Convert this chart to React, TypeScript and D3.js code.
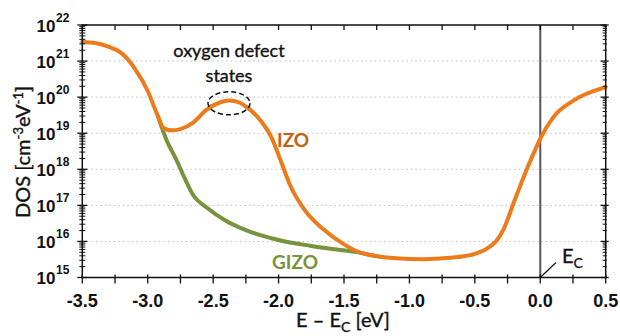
import React from "react";
import * as d3 from "d3";

const izoEnergy = [-3.5, -3.4, -3.3, -3.2, -3.1, -3.0, -2.93, -2.88, -2.82, -2.75, -2.65, -2.55, -2.45, -2.38, -2.3, -2.24, -2.14, -2.05, -1.99, -1.91, -1.81, -1.66, -1.5, -1.38, -1.27, -1.1, -0.9, -0.75, -0.6, -0.5, -0.4, -0.33, -0.28, -0.2, -0.12, -0.05, 0, 0.1, 0.25, 0.5];
const izoDos = [3.39e21, 3.16e21, 2.5e21, 1.66e21, 6.3e20, 1.48e20, 3.5e19, 1.4e19, 1.2e19, 1.3e19, 2.0e19, 4.5e19, 7.1e19, 8.1e19, 7.1e19, 5.2e19, 2.3e19, 7.1e18, 2.0e18, 3.5e17, 8.3e16, 2.2e16, 8.3e15, 5.0e15, 4.0e15, 3.4e15, 3.2e15, 3.4e15, 3.8e15, 4.5e15, 6.6e15, 1.1e16, 2.2e16, 1.26e17, 7.1e17, 2.8e18, 7.1e18, 2.8e19, 7.9e19, 1.9e20];

const gizoEnergy = [-2.92, -2.855, -2.78, -2.715, -2.652, -2.55, -2.4, -2.24, -2.0, -1.76, -1.53, -1.38, -1.27];
const gizoDos = [2.8e19, 6.3e18, 1.8e18, 5.4e17, 1.9e17, 8.7e16, 3.7e16, 2.0e16, 1.1e16, 7.6e15, 5.8e15, 4.9e15, 4.0e15];

const xTicks = [-3.5, -3.0, -2.5, -2.0, -1.5, -1.0, -0.5, 0.0, 0.5];
const yExponents = [15, 16, 17, 18, 19, 20, 21, 22];

const W = 620, H = 336;
const X0 = 82.3, X1 = 605.7, YT = 25, YB = 277.5;
const ORANGE = "#EC7B1B";
const GREEN = "#77933C";

export default function App() {
  const x = d3.scaleLinear().domain([-3.5, 0.5]).range([X0, X1]);
  const y = d3.scaleLog().domain([1e15, 1e22]).range([YB, YT]);
  const line = d3
    .line<[number, number]>()
    .x((d) => x(d[0]))
    .y((d) => y(d[1]))
    .curve(d3.curveMonotoneX);
  const izo = izoEnergy.map((e, i) => [e, izoDos[i]] as [number, number]);
  const gizo = gizoEnergy.map((e, i) => [e, gizoDos[i]] as [number, number]);

  const minorX = d3.range(-3.5, 0.5001, 0.25);
  const minorY: number[] = [];
  for (let p = 15; p < 22; p++) for (let k = 2; k <= 9; k++) minorY.push(k * Math.pow(10, p));

  const tickFont = "'Liberation Sans', Arial, sans-serif";
  const titleFont = "Lato, 'Open Sans', sans-serif";
  const heavy = { stroke: "#111", strokeWidth: 0.35 };

  return (
    <svg width={W} height={H} style={{ position: "absolute", left: 0, top: 0, background: "#fff" }}>
      {/* gridlines */}
      {yExponents.slice(1, -1).map((p) => (
        <line key={"g" + p} x1={X0} x2={X1} y1={y(Math.pow(10, p))} y2={y(Math.pow(10, p))}
          stroke="#bdbdbd" strokeWidth={1} strokeDasharray="1.5 3" />
      ))}
      {/* vertical line at Ec */}
      <line x1={x(0)} x2={x(0)} y1={YT} y2={YB} stroke="#555" strokeWidth={2} />
      {/* curves */}
      <path d={line(gizo) || ""} fill="none" stroke={GREEN} strokeWidth={4} strokeLinejoin="round" strokeLinecap="round" />
      <path d={line(izo) || ""} fill="none" stroke={ORANGE} strokeWidth={4} strokeLinejoin="round" strokeLinecap="round" />
      {/* frame */}
      <rect x={X0} y={YT} width={X1 - X0} height={YB - YT} fill="none" stroke="#111" strokeWidth={1.5} />
      {/* x ticks */}
      {minorX.map((v, i) => (
        <g key={"xt" + i}>
          <line x1={x(v)} x2={x(v)} y1={YB - 3} y2={YB + 6} stroke="#111" strokeWidth={1.3} />
          <line x1={x(v)} x2={x(v)} y1={YT} y2={YT + 5} stroke="#111" strokeWidth={1.3} />
        </g>
      ))}
      {/* y ticks */}
      {yExponents.map((p) => (
        <g key={"yt" + p}>
          <line x1={X0 - 5} x2={X0 + 5} y1={y(Math.pow(10, p))} y2={y(Math.pow(10, p))} stroke="#111" strokeWidth={1.3} />
          <line x1={X1 - 5} x2={X1 + 3} y1={y(Math.pow(10, p))} y2={y(Math.pow(10, p))} stroke="#111" strokeWidth={1.3} />
        </g>
      ))}
      {minorY.map((v, i) => (
        <g key={"ym" + i}>
          <line x1={X0 - 3} x2={X0 + 3} y1={y(v)} y2={y(v)} stroke="#111" strokeWidth={1} />
          <line x1={X1 - 3} x2={X1 + 1} y1={y(v)} y2={y(v)} stroke="#111" strokeWidth={1} />
        </g>
      ))}
      {/* x tick labels */}
      {xTicks.map((v) => (
        <text key={"xl" + v} x={x(v)} y={306.5} textAnchor="middle" fontFamily={tickFont}
          fontWeight="bold" fontSize={18} fill="#111">
          {v.toFixed(1)}
        </text>
      ))}
      {/* y tick labels */}
      {yExponents.map((p) => (
        <g key={"yl" + p}>
          <text x={55.5} y={y(Math.pow(10, p)) + 6.5} textAnchor="end" fontFamily={tickFont}
            fontWeight="bold" fontSize={17} fill="#111">10</text>
          <text x={56} y={y(Math.pow(10, p)) - 3.5} fontFamily={tickFont}
            fontWeight="bold" fontSize={12} fill="#111">{p}</text>
        </g>
      ))}
      {/* axis titles */}
      <text transform="translate(30,152) rotate(-90)" textAnchor="middle" fontFamily={titleFont}
        fontSize={20} fill="#111" {...heavy}>
        DOS [cm<tspan dy={-7} fontSize={13}>-3</tspan><tspan dy={7}>eV</tspan><tspan dy={-7} fontSize={13}>-1</tspan><tspan dy={7}>]</tspan>
      </text>
      <text x={343} y={326.5} textAnchor="middle" fontFamily={titleFont} fontSize={20} fill="#111" {...heavy}>
        E – E<tspan dy={5} fontSize={14}>C</tspan><tspan dy={-5}> [eV]</tspan>
      </text>
      {/* annotations */}
      <text x={229} y={57} textAnchor="middle" fontFamily={titleFont} fontSize={18} fill="#111" {...heavy}>oxygen defect</text>
      <text x={229} y={81.5} textAnchor="middle" fontFamily={titleFont} fontSize={18} fill="#111" {...heavy}>states</text>
      <ellipse cx={229} cy={103.3} rx={21} ry={11.5} fill="none" stroke="#111" strokeWidth={1.5} strokeDasharray="5 3" />
      <text x={277} y={147} fontFamily={titleFont} fontWeight="bold" fontSize={19} fill="#C5600F">IZO</text>
      <text x={272} y={269} fontFamily={titleFont} fontWeight="bold" fontSize={19} fill={GREEN}>GIZO</text>
      <line x1={x(0) + 0.5} y1={YB - 0.5} x2={556} y2={262.5} stroke="#111" strokeWidth={1.2} />
      <text x={562} y={263} fontFamily={titleFont} fontSize={20} fill="#111" {...heavy}>
        E<tspan dy={4.5} fontSize={14}>C</tspan>
      </text>
    </svg>
  );
}
